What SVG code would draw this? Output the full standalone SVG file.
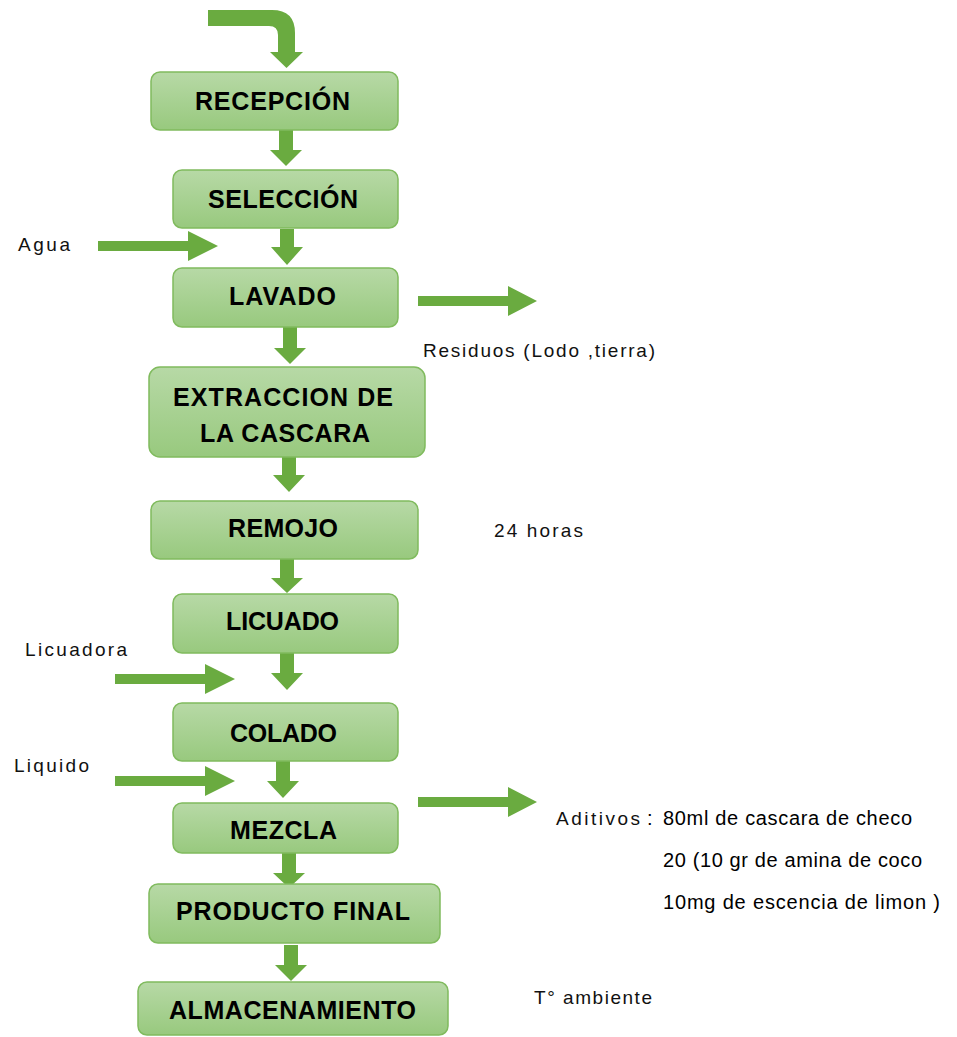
<svg xmlns="http://www.w3.org/2000/svg" width="957" height="1037" viewBox="0 0 957 1037">
<defs>
<linearGradient id="g" x1="0" y1="0" x2="0" y2="1">
<stop offset="0" stop-color="#b7d9a6"/>
<stop offset="1" stop-color="#98c97e"/>
</linearGradient>
<style>
.box{fill:url(#g);stroke:#80bb5e;stroke-width:1.5}
.bt{font-family:"Liberation Sans",Arial,sans-serif;font-weight:bold;font-size:25px;fill:#000;text-anchor:start}
.lb{font-family:"Liberation Sans",Arial,sans-serif;font-size:19px;fill:#111}
.rt{font-family:"Liberation Sans",Arial,sans-serif;font-size:20px;fill:#000}
.ar{fill:#6aab40}
</style>
</defs>
<rect width="957" height="1037" fill="#fff"/>
<g id="connectors">
<path class="ar" d="M208,10 H272 Q295,10 295,33 V52 H303 L286.5,68 L270,52 H278 V35 Q278,26 269,26 H208 Z"/>
<path class="ar" d="M279,130 H293 V150 H302 L286,166 L270,150 H279 Z"/>
<path class="ar" d="M280,229 H294 V247 H303 L287,265 L271,247 H280 Z"/>
<path class="ar" d="M283,327 H297 V348 H306 L290,364 L274,348 H283 Z"/>
<path class="ar" d="M282,457 H296 V475 H305 L289,492 L273,475 H282 Z"/>
<path class="ar" d="M280,559 H294 V578 H303 L287,593 L271,578 H280 Z"/>
<path class="ar" d="M280,653 H294 V673 H303 L287,690 L271,673 H280 Z"/>
<path class="ar" d="M276,761 H290 V781 H299 L283,798 L267,781 H276 Z"/>
<path class="ar" d="M282,853 H296 V873 H305 L289,888 L273,873 H282 Z"/>
<path class="ar" d="M284,945 H298 V965 H307 L291,981 L275,965 H284 Z"/>
<path class="ar" d="M98,241 H188 V231 L218,246 L188,261 V251 H98 Z"/>
<path class="ar" d="M418,296 H508 V286 L537,301 L508,316 V306 H418 Z"/>
<path class="ar" d="M115,674 H205 V664 L235,679 L205,694 V684 H115 Z"/>
<path class="ar" d="M115,776 H205 V766 L235,781 L205,796 V786 H115 Z"/>
<path class="ar" d="M418,797 H508 V787 L537,802 L508,817 V807 H418 Z"/>
</g>
<g id="recepcion"><rect class="box" x="151" y="72" width="247" height="58" rx="9"/><text class="bt" x="195" y="110" textLength="155" lengthAdjust="spacing">RECEPCIÓN</text></g>
<g id="seleccion"><rect class="box" x="173" y="170" width="225" height="58" rx="9"/><text class="bt" x="208" y="208" textLength="150" lengthAdjust="spacing">SELECCIÓN</text></g>
<g id="lavado"><rect class="box" x="173" y="268" width="225" height="59" rx="9"/><text class="bt" x="229" y="305" textLength="107" lengthAdjust="spacing">LAVADO</text></g>
<g id="extraccion"><rect class="box" x="149" y="367" width="276" height="90" rx="11"/><text class="bt" x="173" y="406" textLength="220" lengthAdjust="spacing">EXTRACCION  DE</text><text class="bt" x="200" y="442" textLength="170" lengthAdjust="spacing">LA CASCARA</text></g>
<g id="remojo"><rect class="box" x="151" y="501" width="267" height="58" rx="9"/><text class="bt" x="228" y="537" textLength="110" lengthAdjust="spacing">REMOJO</text></g>
<g id="licuado"><rect class="box" x="173" y="594" width="225" height="59" rx="9"/><text class="bt" x="226" y="630" textLength="113" lengthAdjust="spacing">LICUADO</text></g>
<g id="colado"><rect class="box" x="173" y="703" width="225" height="58" rx="9"/><text class="bt" x="230" y="742" textLength="107" lengthAdjust="spacing">COLADO</text></g>
<g id="mezcla"><rect class="box" x="173" y="803" width="225" height="50" rx="9"/><text class="bt" x="230" y="839" textLength="107" lengthAdjust="spacing">MEZCLA</text></g>
<g id="producto-final"><rect class="box" x="149" y="884" width="291" height="59" rx="9"/><text class="bt" x="176" y="920" textLength="234" lengthAdjust="spacing">PRODUCTO  FINAL</text></g>
<g id="almacenamiento"><rect class="box" x="138" y="982" width="310" height="53" rx="9"/><text class="bt" x="169" y="1019" textLength="247" lengthAdjust="spacing">ALMACENAMIENTO</text></g>
<g id="labels">
<text class="lb" x="18" y="251" textLength="52" lengthAdjust="spacing">Agua</text>
<text class="lb" x="423" y="357" textLength="232" lengthAdjust="spacing">Residuos (Lodo ,tierra)</text>
<text class="lb" x="494" y="537" textLength="89" lengthAdjust="spacing">24 horas</text>
<text class="lb" x="25" y="656" textLength="102" lengthAdjust="spacing">Licuadora</text>
<text class="lb" x="14" y="772" textLength="75" lengthAdjust="spacing">Liquido</text>
<text class="lb" x="556" y="825" textLength="84" lengthAdjust="spacing" fill="#333">Aditivos</text>
<text class="rt" x="647" y="825">:</text>
<text class="rt" x="663" y="825" textLength="249" lengthAdjust="spacing">80ml de cascara de checo</text>
<text class="rt" x="663" y="867" textLength="259" lengthAdjust="spacing">20 (10 gr de amina de coco</text>
<text class="rt" x="663" y="909" textLength="277" lengthAdjust="spacing">10mg de escencia de limon  )</text>
<text class="lb" x="534" y="1004" textLength="118" lengthAdjust="spacing">T° ambiente</text>
</g>
</svg>
